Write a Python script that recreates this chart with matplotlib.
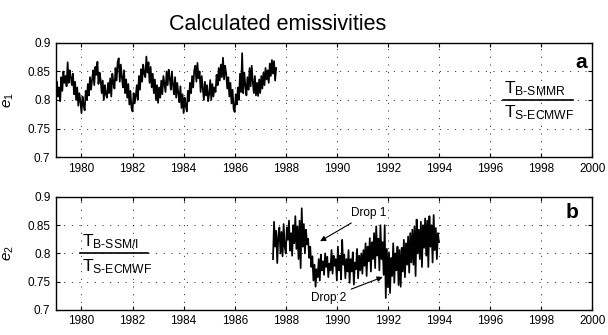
import matplotlib
matplotlib.use("Agg")
import matplotlib.pyplot as plt
import numpy as np
from matplotlib.ticker import FuncFormatter

plt.rcParams["font.family"] = ["Liberation Sans", "DejaVu Sans"]
plt.rcParams["mathtext.fontset"] = "custom"
plt.rcParams["mathtext.rm"] = "Liberation Sans"
plt.rcParams["mathtext.it"] = "Liberation Sans:italic"
plt.rcParams["mathtext.default"] = "regular"

# e1 = TB(SMMR) / Ts(ECMWF), sampled every 1/24 year from 1979.0
e1_start = 1979.0
e1 = [
    0.800, 0.832, 0.806, 0.822, 0.798, 0.840, 0.816, 0.850, 0.830, 0.842, 0.824, 0.866,
    0.830, 0.852, 0.840, 0.826, 0.846, 0.810, 0.832, 0.800, 0.822, 0.790, 0.812, 0.798,
    0.777, 0.806, 0.790, 0.782, 0.816, 0.800, 0.828, 0.808, 0.840, 0.818, 0.836, 0.852,
    0.826, 0.858, 0.844, 0.867, 0.828, 0.848, 0.836, 0.812, 0.834, 0.800, 0.826, 0.810,
    0.804, 0.830, 0.812, 0.838, 0.806, 0.846, 0.830, 0.820, 0.856, 0.834, 0.866, 0.873,
    0.832, 0.862, 0.840, 0.822, 0.852, 0.812, 0.836, 0.804, 0.828, 0.792, 0.816, 0.786,
    0.780, 0.812, 0.794, 0.806, 0.826, 0.800, 0.842, 0.818, 0.854, 0.832, 0.862, 0.846,
    0.840, 0.876, 0.848, 0.866, 0.830, 0.858, 0.822, 0.846, 0.812, 0.836, 0.800, 0.826,
    0.795, 0.822, 0.804, 0.834, 0.810, 0.842, 0.828, 0.814, 0.850, 0.826, 0.853, 0.838,
    0.818, 0.850, 0.826, 0.810, 0.840, 0.804, 0.830, 0.812, 0.796, 0.824, 0.786, 0.810,
    0.777, 0.804, 0.790, 0.780, 0.816, 0.798, 0.830, 0.812, 0.842, 0.822, 0.852, 0.860,
    0.832, 0.865, 0.838, 0.850, 0.814, 0.842, 0.820, 0.800, 0.832, 0.808, 0.826, 0.798,
    0.810, 0.835, 0.800, 0.828, 0.806, 0.822, 0.814, 0.844, 0.826, 0.856, 0.834, 0.862,
    0.840, 0.874, 0.836, 0.860, 0.846, 0.820, 0.840, 0.806, 0.830, 0.794, 0.818, 0.784,
    0.779, 0.810, 0.792, 0.822, 0.800, 0.846, 0.814, 0.882, 0.812, 0.848, 0.826, 0.808,
    0.840, 0.818, 0.856, 0.824, 0.860, 0.832, 0.812, 0.842, 0.808, 0.830, 0.807, 0.836,
    0.812, 0.842, 0.820, 0.848, 0.826, 0.856, 0.836, 0.852, 0.830, 0.864, 0.842, 0.870,
    0.846, 0.868, 0.834, 0.856,
]

# e2 = TB(SSM/I) / Ts(ECMWF), sampled every 1/24 year from 1987.5
e2_start = 1987.5
e2 = [
    0.790, 0.856, 0.812, 0.840, 0.783, 0.830, 0.846, 0.800, 0.838, 0.795, 0.852, 0.812,
    0.800, 0.846, 0.824, 0.858, 0.805, 0.836, 0.796, 0.850, 0.818, 0.866, 0.808, 0.848,
    0.790, 0.858, 0.774, 0.880, 0.812, 0.852, 0.800, 0.842, 0.816, 0.826, 0.792, 0.812,
    0.776, 0.795, 0.752, 0.780, 0.741, 0.772, 0.758, 0.790, 0.752, 0.798, 0.770, 0.786,
    0.762, 0.800, 0.776, 0.794, 0.758, 0.782, 0.770, 0.806, 0.764, 0.796, 0.778, 0.790,
    0.752, 0.812, 0.770, 0.796, 0.754, 0.824, 0.780, 0.798, 0.756, 0.790, 0.768, 0.806,
    0.748, 0.790, 0.768, 0.802, 0.745, 0.784, 0.772, 0.808, 0.756, 0.796, 0.770, 0.800,
    0.764, 0.806, 0.778, 0.818, 0.760, 0.812, 0.786, 0.827, 0.768, 0.820, 0.790, 0.836,
    0.774, 0.848, 0.796, 0.826, 0.770, 0.850, 0.790, 0.820, 0.762, 0.850, 0.721, 0.808,
    0.740, 0.802, 0.730, 0.792, 0.760, 0.818, 0.748, 0.800, 0.770, 0.812, 0.744, 0.806,
    0.741, 0.810, 0.768, 0.824, 0.758, 0.818, 0.780, 0.830, 0.766, 0.836, 0.784, 0.842,
    0.780, 0.848, 0.760, 0.860, 0.800, 0.842, 0.790, 0.856, 0.776, 0.850, 0.810, 0.862,
    0.796, 0.858, 0.776, 0.866, 0.812, 0.850, 0.784, 0.868, 0.806, 0.845, 0.790, 0.836,
    0.820,
]

x_ticks = [1980, 1982, 1984, 1986, 1988, 1990, 1992, 1994, 1996, 1998, 2000]
y_ticks = [0.7, 0.75, 0.8, 0.85, 0.9]

t1 = e1_start + np.arange(len(e1)) / 24.0
t2 = e2_start + np.arange(len(e2)) / 24.0

fig = plt.figure(figsize=(6.08, 3.35), dpi=100)
ax1 = fig.add_axes([0.092, 0.531, 0.882, 0.341])
ax2 = fig.add_axes([0.092, 0.075, 0.882, 0.337])


def style_axis(ax):
    ax.set_xlim(1979, 2000)
    ax.set_ylim(0.7, 0.9)
    ax.set_xticks(x_ticks)
    ax.set_yticks(y_ticks)
    ax.yaxis.set_major_formatter(FuncFormatter(lambda v, p: f"{v:g}"))
    ax.tick_params(direction="in", length=3, width=0.8, top=True, right=True,
                   labelsize=8.5, pad=4)
    ax.grid(True, color="black", linestyle=(0, (1.2, 8)), linewidth=0.6)
    for s in ax.spines.values():
        s.set_linewidth(1.0)


ax1.plot(t1, e1, color="black", linewidth=1.25)
style_axis(ax1)
ax1.set_ylabel(r"$\mathit{e}_1$", fontsize=11)
ax1.yaxis.set_label_coords(-0.075, 0.5)
ax1.text(0.99, 0.83, "a", transform=ax1.transAxes, fontsize=15,
         fontweight="bold", ha="right", va="center")
ax1.plot([0.834, 0.965], [0.5, 0.5], transform=ax1.transAxes, color="black", linewidth=1.2)
ax1.text(0.836, 0.52, r"T$_{\text{B-SMMR}}$", transform=ax1.transAxes,
         fontsize=12.5, ha="left", va="bottom")
ax1.text(0.836, 0.47, r"T$_{\text{S-ECMWF}}$", transform=ax1.transAxes,
         fontsize=12.5, ha="left", va="top")

ax2.plot(t2, e2, color="black", linewidth=1.25)
style_axis(ax2)
ax2.set_ylabel(r"$\mathit{e}_2$", fontsize=11)
ax2.yaxis.set_label_coords(-0.075, 0.5)
ax2.text(0.975, 0.86, "b", transform=ax2.transAxes, fontsize=15,
         fontweight="bold", ha="right", va="center")
ax2.plot([0.045, 0.172], [0.5, 0.5], transform=ax2.transAxes, color="black", linewidth=1.2)
ax2.text(0.048, 0.52, r"T$_{\text{B-SSM/I}}$", transform=ax2.transAxes,
         fontsize=12.5, ha="left", va="bottom")
ax2.text(0.048, 0.47, r"T$_{\text{S-ECMWF}}$", transform=ax2.transAxes,
         fontsize=12.5, ha="left", va="top")

arrow = dict(arrowstyle="-|>", color="black", lw=0.8, mutation_scale=8)
ax2.annotate("Drop 1", xy=(1989.25, 0.819), xytext=(1990.55, 0.872),
             fontsize=8.5, ha="left", va="center", arrowprops=arrow)
ax2.annotate("Drop 2", xy=(1991.9, 0.760), xytext=(1990.35, 0.721),
             fontsize=8.5, ha="right", va="center", arrowprops=arrow)

fig.text(0.457, 0.91, "Calculated emissivities", fontsize=15.5,
         ha="center", va="baseline")

fig.savefig("out.png", dpi=100)
